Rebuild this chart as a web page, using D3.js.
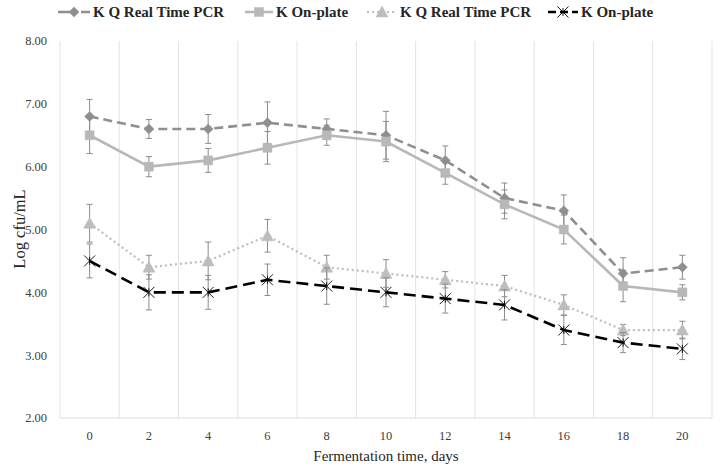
<!DOCTYPE html>
<html><head><meta charset="utf-8">
<script src="https://cdn.jsdelivr.net/npm/d3@7"></script>
<style>body{margin:0;background:#fff}svg{display:block}text{font-family:"Liberation Serif",serif}</style>
</head><body><svg id="c" width="720" height="469"></svg>
<script>
const days = ["0","2","4","6","8","10","12","14","16","18","20"];
const yTicks = [2,3,4,5,6,7,8];
const seriesNames = ["K Q Real Time PCR","K On-plate","K Q Real Time PCR","K On-plate"];
const s1 = [6.8,6.6,6.6,6.7,6.6,6.5,6.1,5.5,5.3,4.3,4.4];
const e1 = [0.27,0.15,0.23,0.33,0.16,0.38,0.23,0.24,0.25,0.25,0.19];
const s2 = [6.5,6.0,6.1,6.3,6.5,6.4,5.9,5.4,5.0,4.1,4.0];
const e2 = [0.29,0.16,0.19,0.26,0.16,0.32,0.18,0.23,0.23,0.25,0.12];
const s3 = [5.1,4.4,4.5,4.9,4.4,4.3,4.2,4.1,3.8,3.4,3.4];
const e3 = [0.30,0.19,0.30,0.26,0.19,0.22,0.13,0.17,0.16,0.09,0.14];
const s4 = [4.5,4.0,4.0,4.2,4.1,4.0,3.9,3.8,3.4,3.2,3.1];
const e4 = [0.27,0.28,0.27,0.25,0.29,0.23,0.23,0.24,0.23,0.16,0.17];

const styles = [
  {color:"#8f8f8f", dash:"9,5", width:2.6, marker:"diamond"},
  {color:"#b8b8b8", dash:null, width:2.6, marker:"square"},
  {color:"#bdbdbd", dash:"2,3", width:2.2, marker:"triangle"},
  {color:"#000000", dash:"12,6", width:2.6, marker:"star"}
];
const series = [[s1,e1],[s2,e2],[s3,e3],[s4,e4]];
const FONT = "Liberation Serif, serif";

const svg = d3.select("#c");
const x = d3.scaleBand().domain(days).range([60,712]).padding(0);
const y = d3.scaleLinear().domain([2,8]).range([418,41]);
const cx = d => x(d) + x.bandwidth()/2;

const bounds = days.map(d => x(d)).concat([x(days[days.length-1]) + x.bandwidth()]);
svg.append("g").selectAll("line").data(bounds).join("line")
  .attr("x1",d=>d).attr("x2",d=>d).attr("y1",y(8)).attr("y2",y(2))
  .attr("stroke","#e3e3e3").attr("stroke-width",1);
svg.append("line").attr("x1",60).attr("x2",712).attr("y1",y(2)).attr("y2",y(2))
  .attr("stroke","#dcdcdc").attr("stroke-width",1);

svg.append("g").selectAll("text").data(yTicks).join("text")
  .attr("x",47).attr("y",d=>y(d)).attr("dy","0.35em").attr("text-anchor","end")
  .attr("font-family",FONT).attr("font-size",12.5).attr("fill","#404040").text(d3.format(".2f"));
svg.append("g").selectAll("text").data(days).join("text")
  .attr("x",d=>cx(d)).attr("y",440).attr("text-anchor","middle")
  .attr("font-family",FONT).attr("font-size",12.5).attr("fill","#404040").text(d=>d);
svg.append("text").attr("x",386).attr("y",461).attr("text-anchor","middle")
  .attr("font-family",FONT).attr("font-size",15).attr("fill","#262626").text("Fermentation time, days");
svg.append("text").attr("transform","translate(19,229) rotate(-90)").attr("text-anchor","middle")
  .attr("dy","0.35em").attr("font-family",FONT).attr("font-size",16.5).attr("fill","#262626").text("Log cfu/mL");

function markerPath(type){
  if(type==="diamond") return "M0,-5L5,0L0,5L-5,0Z";
  if(type==="square") return "M-4.5,-4.5H4.5V4.5H-4.5Z";
  if(type==="triangle") return "M0,-6L6,5H-6Z";
  return "M-5.5,-5.5L5.5,5.5M-5.5,5.5L5.5,-5.5M0,-4V4";
}
function drawMarker(g, type, color){
  const p = g.append("path").attr("d", markerPath(type));
  if(type==="star") p.attr("fill","none").attr("stroke",color).attr("stroke-width",0.9);
  else p.attr("fill",color).attr("stroke",color).attr("stroke-width",0.5);
}

const line = d3.line().x((v,i)=>cx(days[i])).y(v=>y(v));
series.forEach(([vals,errs],k)=>{
  const st = styles[k];
  const g = svg.append("g");
  const path = g.append("path").attr("d",line(vals)).attr("fill","none")
    .attr("stroke",st.color).attr("stroke-width",st.width);
  if(st.dash) path.attr("stroke-dasharray",st.dash);
  vals.forEach((v,i)=>{
    const xx = cx(days[i]);
    const eg = g.append("g").attr("stroke","#8c8c8c").attr("stroke-width",1);
    eg.append("line").attr("x1",xx).attr("x2",xx).attr("y1",y(v+errs[i])).attr("y2",y(v-errs[i]));
    eg.append("line").attr("x1",xx-3).attr("x2",xx+3).attr("y1",y(v+errs[i])).attr("y2",y(v+errs[i]));
    eg.append("line").attr("x1",xx-3).attr("x2",xx+3).attr("y1",y(v-errs[i])).attr("y2",y(v-errs[i]));
  });
  vals.forEach((v,i)=>{
    const mg = g.append("g").attr("transform",`translate(${cx(days[i])},${y(v)})`);
    drawMarker(mg, st.marker, st.color);
  });
});

const legX = [[58,93],[245,276],[367,400],[548,581]];
seriesNames.forEach((name,k)=>{
  const st = styles[k];
  const [lx,tx] = legX[k];
  const g = svg.append("g");
  const ln = g.append("line").attr("x1",lx).attr("x2",tx-3).attr("y1",12).attr("y2",12)
    .attr("stroke",st.color).attr("stroke-width",st.width);
  if(st.dash) ln.attr("stroke-dasharray", k===3 ? "8,4" : (k===0 ? "20,3" : st.dash));
  const mg = g.append("g").attr("transform",`translate(${(lx+tx-3)/2},12)`);
  drawMarker(mg, st.marker, st.color);
  g.append("text").attr("x",tx).attr("y",12).attr("dy","0.35em").attr("font-size",15)
    .attr("font-family",FONT).attr("font-weight","bold").attr("fill","#262626").text(name);
});
</script></body></html>
